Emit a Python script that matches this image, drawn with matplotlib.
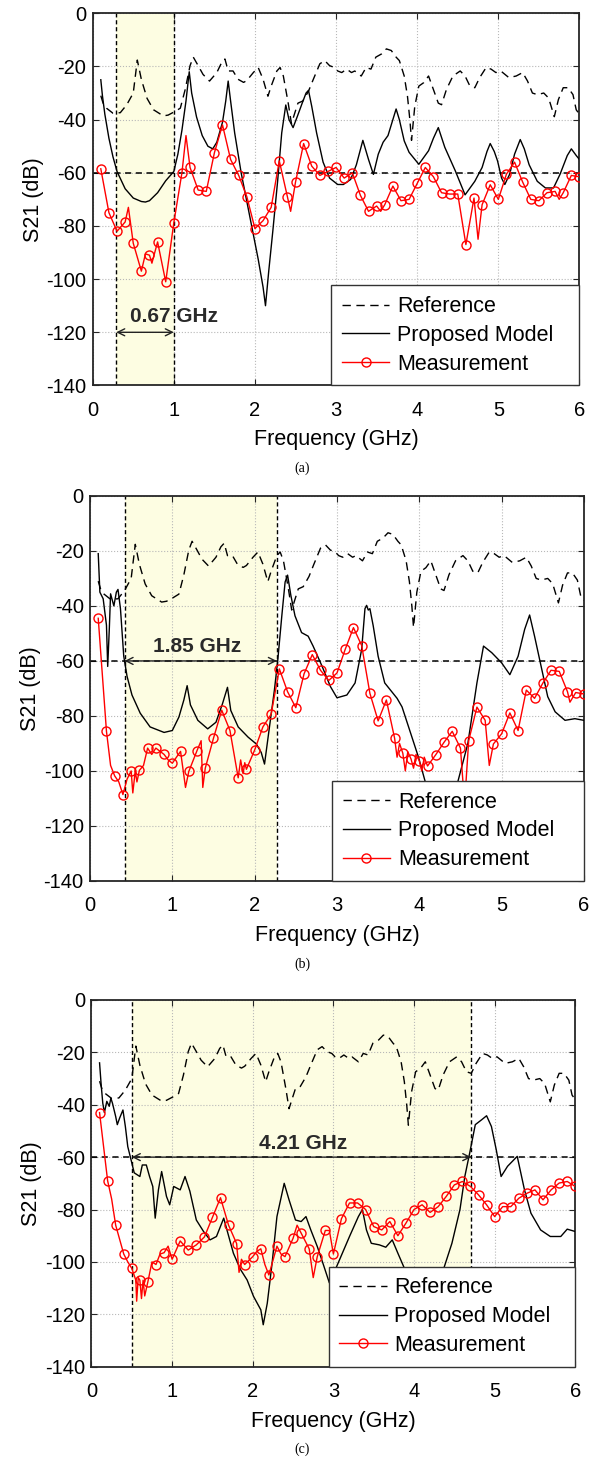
import numpy as np
import matplotlib
matplotlib.use("Agg")
import matplotlib.pyplot as plt

plt.rcParams['font.family'] = ['Liberation Sans', 'DejaVu Sans']
plt.rcParams['axes.unicode_minus'] = False

# ---------- data ----------
# Reference curve (same in all three panels)
ref_f = [0.1, 0.13, 0.17, 0.25, 0.34, 0.42, 0.5, 0.55, 0.6, 0.67, 0.75, 0.87, 0.93, 1.01, 1.08,
         1.14, 1.2, 1.24, 1.3, 1.36, 1.44, 1.53, 1.59, 1.63, 1.67, 1.73, 1.79, 1.86, 1.9, 1.98,
         2.04, 2.1, 2.16, 2.2, 2.27, 2.31, 2.35, 2.41, 2.45, 2.49, 2.53, 2.59, 2.66, 2.72, 2.8,
         2.86, 2.92, 2.98, 3.02, 3.07, 3.13, 3.19, 3.23, 3.31, 3.37, 3.43, 3.49, 3.56, 3.62, 3.68,
         3.74, 3.78, 3.84, 3.88, 3.91, 3.93, 3.97, 4.02, 4.08, 4.14, 4.2, 4.26, 4.3, 4.36, 4.44,
         4.53, 4.59, 4.65, 4.71, 4.77, 4.85, 4.91, 4.97, 5.03, 5.13, 5.22, 5.3, 5.36, 5.42, 5.48,
         5.56, 5.62, 5.69, 5.74, 5.8, 5.86, 5.92, 5.96, 6.0]
ref_db = [-31, -34, -35.7, -37.6, -37.4, -34.4, -30, -17.6, -24.9, -32, -36.3, -38.6, -38.3, -37, -35.7,
          -28.7, -19.7, -16.5, -19.7, -23, -25.5, -22.3, -18.5, -17.2, -21.7, -21.7, -24.8, -26, -25.3, -22.3,
          -20.4, -24.8, -31.2, -27.4, -21.7, -20.4, -23.6, -33.8, -41.5, -37.6, -33.8, -33, -29.3, -24.8, -19,
          -17.8, -19.7, -20.4, -21.7, -22.3, -21, -22.3, -21.7, -23.6, -20.4, -21, -16.5, -15.3, -13.4, -14,
          -16.5, -17.8, -23.6, -31.2, -40.2, -47.8, -35, -27.4, -26.1, -23.6, -28.7, -33.8, -34.4, -28.7, -23.6,
          -21.7, -23.6, -27.4, -28, -24.2, -20.4, -21, -22.3, -21.7, -24.2, -23.6, -22.3, -25.5, -30, -30.6,
          -30, -31.9, -38.9, -32.5, -28, -28, -30.6, -36.3, -38]

# (a) proposed model
model_a_f = [0.1, 0.12, 0.15, 0.2, 0.25, 0.3, 0.4, 0.5, 0.6, 0.65, 0.7, 0.8, 0.9, 1.0, 1.05, 1.1,
             1.15, 1.19, 1.22, 1.28, 1.35, 1.42, 1.48, 1.53, 1.6, 1.64, 1.67, 1.7, 1.75, 1.83, 1.94,
             2.04, 2.1, 2.13, 2.17, 2.22, 2.28, 2.33, 2.38, 2.42, 2.47, 2.52, 2.58, 2.63, 2.66, 2.7,
             2.76, 2.84, 2.92, 3.02, 3.09, 3.18, 3.25, 3.33, 3.4, 3.46, 3.52, 3.58, 3.64, 3.69, 3.74,
             3.78, 3.84, 3.9, 4.02, 4.14, 4.2, 4.26, 4.34, 4.47, 4.59, 4.71, 4.8, 4.86, 4.9, 4.95,
             4.99, 5.04, 5.08, 5.14, 5.2, 5.27, 5.32, 5.38, 5.48, 5.58, 5.68, 5.76, 5.85, 5.9, 5.96, 6.0]
model_a_db = [-25, -31, -38, -47, -54, -59.5, -66, -69.5, -70.8, -71, -70.5, -67.5, -63, -59.5, -53, -44,
              -33, -22, -30, -39, -46, -50, -51, -48.5, -41, -33, -25.5, -33, -45, -60, -77,
              -92.5, -103, -110, -97, -82, -63, -45, -34.5, -40, -43, -39, -34, -30, -29, -35,
              -45, -56, -62, -64.4, -64.4, -62.5, -57, -47.8, -55, -60.6, -53, -48.5, -46, -41, -36,
              -40, -48, -52.3, -56.8, -51.7, -47, -43, -50.4, -59.3, -68.3, -63.2, -58, -52, -49, -52,
              -55.5, -62, -64.4, -60.5, -53, -47.5, -51, -57, -63.2, -65.7, -65.7, -60.6, -53.5, -51, -53.5, -55]

# (a) measurement (markers every 0.1 GHz, extra points are spikes between them)
meas_a_f = [0.1, 0.2, 0.3, 0.4, 0.44, 0.5, 0.6, 0.65, 0.7, 0.73, 0.8, 0.9, 1.0, 1.1, 1.15, 1.2, 1.3,
            1.4, 1.5, 1.6, 1.7, 1.8, 1.9, 2.0, 2.1, 2.2, 2.3, 2.4, 2.44, 2.5, 2.6, 2.7, 2.8, 2.9, 3.0,
            3.1, 3.2, 3.3, 3.4, 3.5, 3.55, 3.6, 3.7, 3.8, 3.9, 4.0, 4.1, 4.2, 4.3, 4.4, 4.5, 4.6, 4.7,
            4.75, 4.8, 4.9, 5.0, 5.1, 5.2, 5.3, 5.4, 5.5, 5.6, 5.7, 5.75, 5.8, 5.9, 6.0]
meas_a_db = [-58.5, -75, -82, -78.5, -73, -86.5, -97, -90.5, -91, -94, -86, -101, -78.8, -60, -46, -58, -66.5,
             -67, -52.5, -42, -55, -61, -69, -81, -78, -73, -55.5, -69, -74.5, -63.5, -49, -57.5, -61, -59.5, -58,
             -62, -60, -68.5, -74.5, -72.5, -74.5, -72, -65, -70.5, -70, -64, -58, -61.5, -67.5, -68, -68, -87, -69.5,
             -85, -72, -64.5, -70, -60.5, -56, -63.5, -70, -70.5, -67.5, -67, -70, -67.5, -61, -61.5]

# (b) proposed model
model_b_f = [0.1, 0.12, 0.16, 0.2, 0.215, 0.235, 0.25, 0.29, 0.32, 0.34, 0.37, 0.41, 0.45, 0.51, 0.61,
             0.73, 0.9, 1.0, 1.08, 1.14, 1.18, 1.22, 1.31, 1.43, 1.53, 1.61, 1.67, 1.71, 1.8, 1.92, 2.02,
             2.08, 2.12, 2.18, 2.24, 2.28, 2.33, 2.37, 2.4, 2.44, 2.49, 2.57, 2.65, 2.71, 2.82, 2.92, 3.0,
             3.12, 3.22, 3.3, 3.34, 3.36, 3.38, 3.4, 3.44, 3.5, 3.58, 3.73, 3.79, 3.87, 3.99, 4.07, 4.15,
             4.25, 4.35, 4.47, 4.59, 4.7, 4.78, 4.88, 5.0, 5.1, 5.2, 5.28, 5.34, 5.4, 5.48, 5.56, 5.65,
             5.77, 5.89, 6.0]
model_b_db = [-21, -35, -37.4, -47, -62, -48, -35.6, -40, -35, -34, -41, -58.3, -65.6, -72.4, -79,
              -84, -86, -85.3, -80.4, -74.2, -69, -76, -81.6, -84.7, -82.3, -75.5, -69.6, -78, -84, -87.7, -90.2,
              -93.3, -97.5, -84, -70.6, -60, -43.6, -31.3, -28.8, -36.2, -43.6, -49.7, -51, -54.6, -62, -69.3, -73.4,
              -72.4, -68, -55.8, -41, -39.8, -41.5, -41, -47.2, -58.3, -68, -73.6, -76.7, -84, -95, -103.7, -115,
              -125, -118, -103.7, -90, -68, -54.6, -57, -60.7, -65, -58.3, -48.5, -43.3, -51, -62, -73, -78.5,
              -81.6, -81, -81.6]

# (b) measurement
meas_b_f = [0.1, 0.2, 0.25, 0.3, 0.35, 0.4, 0.45, 0.5, 0.52, 0.55, 0.57, 0.6, 0.65, 0.7, 0.75, 0.8, 0.9,
            0.95, 1.0, 1.05, 1.1, 1.16, 1.2, 1.3, 1.35, 1.37, 1.4, 1.5, 1.6, 1.7, 1.8, 1.83, 1.86, 1.88,
            1.9, 2.0, 2.1, 2.2, 2.3, 2.4, 2.5, 2.6, 2.7, 2.8, 2.9, 3.0, 3.1, 3.2, 3.3, 3.4, 3.5, 3.6, 3.7,
            3.73, 3.76, 3.8, 3.83, 3.86, 3.9, 3.93, 3.96, 4.0, 4.03, 4.06, 4.1, 4.2, 4.3, 4.4, 4.5, 4.55,
            4.6, 4.7, 4.8, 4.85, 4.9, 5.0, 5.1, 5.2, 5.3, 5.4, 5.5, 5.6, 5.7, 5.8, 5.83, 5.9, 6.0]
meas_b_db = [-44.5, -85.6, -98, -101.8, -104, -108.6, -103, -100, -108, -100, -104, -99.8, -98, -91.7, -94, -91.7, -94,
             -96, -97.2, -95, -92.9, -106, -100.2, -92.6, -89, -106, -99, -88.1, -77.9, -85.3, -102.5, -96, -101, -97,
             -99.4, -92.4, -84, -79.4, -62.9, -71.2, -77, -64.7, -57.7, -63.4, -67.1, -64.4, -55.8, -47.9, -54.4, -71.8, -81.8, -74.2, -88.1,
             -95, -90, -93.6, -100, -93, -95.7, -99, -94, -96.3, -100, -95, -98.2, -94.1, -89.6, -85.6, -91.7, -112,
             -89, -76.8, -81.6, -98, -90.2, -86.5, -78.9, -85.3, -70.6, -73.6, -68.1, -63.4, -63.8, -71.2, -75, -71.5, -72]

# (c) proposed model
model_c_f = [0.1, 0.12, 0.14, 0.16, 0.19, 0.22, 0.24, 0.26, 0.3, 0.32, 0.35, 0.39, 0.42, 0.45, 0.48,
             0.53, 0.6, 0.63, 0.68, 0.72, 0.76, 0.79, 0.83, 0.87, 0.93, 0.97, 1.02, 1.1, 1.16, 1.22, 1.3,
             1.39, 1.47, 1.55, 1.64, 1.68, 1.76, 1.85, 1.93, 2.01, 2.1, 2.13, 2.18, 2.24, 2.3, 2.39, 2.45,
             2.53, 2.6, 2.66, 2.72, 2.8, 2.87, 2.95, 3.04, 3.2, 3.31, 3.36, 3.41, 3.47, 3.57, 3.65, 3.73,
             3.8, 3.88, 4.0, 4.12, 4.25, 4.37, 4.47, 4.57, 4.63, 4.69, 4.76, 4.84, 4.9, 4.96, 5.02, 5.08,
             5.16, 5.28, 5.37, 5.45, 5.57, 5.69, 5.82, 5.9, 6.0]
model_c_db = [-24, -32.4, -39.4, -43, -38.7, -40.6, -37.5, -39.4, -44.5, -47.6, -45, -42, -48.3, -56, -59.7,
              -66, -67.4, -63, -63, -67.4, -71.2, -83.3, -72.5, -65.5, -75, -78.2, -71.2, -72.5, -67.4, -73, -84,
              -88.4, -91.6, -90.3, -83.3, -87.8, -96.7, -103, -106.9, -113.2, -118.3, -124, -115.8, -100.5, -82.7, -70, -76.3,
              -84, -84.6, -82.7, -87.8, -94.1, -100.5, -108, -101.8, -90.3, -82.7, -80, -87.8, -92.9, -93.5, -94.4, -91.6,
              -96.7, -102.4, -115, -122, -115, -102.4, -92.9, -80, -67.4, -58.5, -47.6, -45.7, -44.2, -48.3, -57.2, -67.4,
              -63.5, -59.7, -72.5, -81.4, -87.8, -90.3, -90.3, -87.5, -88.4]

# (c) measurement
meas_c_f = [0.1, 0.2, 0.25, 0.27, 0.3, 0.4, 0.45, 0.5, 0.55, 0.56, 0.58, 0.6, 0.62, 0.64, 0.66, 0.7,
            0.75, 0.8, 0.85, 0.9, 0.95, 1.0, 1.1, 1.2, 1.3, 1.4, 1.5, 1.6, 1.7, 1.8, 1.83, 1.86, 1.9,
            2.0, 2.05, 2.1, 2.15, 2.2, 2.3, 2.35, 2.4, 2.5, 2.55, 2.6, 2.65, 2.7, 2.75, 2.8, 2.9, 2.95,
            3.0, 3.1, 3.2, 3.3, 3.4, 3.5, 3.6, 3.7, 3.8, 3.9, 4.0, 4.1, 4.2, 4.3, 4.4, 4.5, 4.6, 4.7,
            4.8, 4.9, 5.0, 5.1, 5.2, 5.3, 5.4, 5.5, 5.6, 5.7, 5.8, 5.9, 6.0]
meas_c_db = [-43, -69, -76, -80, -86, -97, -100, -102.5, -107, -115, -106, -107, -114, -107, -113, -107.5,
             -100, -101, -97, -96.5, -94, -99, -92, -95.5, -93.5, -90.5, -83, -75.5, -86, -93, -104, -99, -101,
             -98, -96, -95, -101, -105, -94, -97, -98, -91, -86, -89, -92, -95, -106, -98, -88, -88,
             -97, -83.5, -77.5, -77.5, -80, -86.5, -87.8, -84.6, -90, -85.2, -80, -78.2, -81.1, -78.9, -75, -70.6, -69.3, -71.2,
             -74.4, -78.2, -82.7, -78.9, -78.9, -75.7, -73.8, -72.5, -76.3, -72.5, -69.9, -69.3, -71.2]

# shaded band edges and band widths shown in each panel
band_lo = [0.29, 0.42, 0.50]
band_hi = [1.00, 2.27, 4.71]
band_txt = ["0.67 GHz", "1.85 GHz", "4.21 GHz"]
panel_tags = ["(a)", "(b)", "(c)"]

# ---------- figure ----------
fig = plt.figure(figsize=(5.98, 14.59), dpi=100)
ax_rects = [[0.155, 0.7358, 0.814, 0.2551],
            [0.1505, 0.3962, 0.826, 0.2639],
            [0.153, 0.0633, 0.809, 0.2513]]
tag_y = [0.679, 0.339, 0.0065]

models = [(model_a_f, model_a_db), (model_b_f, model_b_db), (model_c_f, model_c_db)]
meass = [(meas_a_f, meas_a_db), (meas_b_f, meas_b_db), (meas_c_f, meas_c_db)]

for i in range(3):
    ax = fig.add_axes(ax_rects[i])
    ax.set_axisbelow(True)
    lo, hi = band_lo[i], band_hi[i]

    ax.axvspan(lo, hi, color='#fdfde2', zorder=0.2, lw=0)
    ax.grid(True, ls=':', color='#b8b8b8', lw=0.8)

    ax.plot(ref_f, ref_db, color='k', lw=1.0, dashes=(6, 4), label='Reference', zorder=3)
    mf, mdb = models[i]
    ax.plot(mf, mdb, color='k', lw=1.0, label='Proposed Model', zorder=3)
    sf, sdb = meass[i]
    sf = np.asarray(sf)
    marks = [k for k, f in enumerate(sf) if abs(f * 10 - round(f * 10)) < 1e-6]
    ax.plot(sf, sdb, color='#ff0000', lw=1.0, marker='o', ms=6.5, mfc='none', mew=1.0,
            markevery=marks, label='Measurement', zorder=4)

    # -60 dB level and band limits
    ax.axhline(-60, color='k', lw=1.1, dashes=(4, 3), zorder=2.5)
    for xv in (lo, hi):
        ax.axvline(xv, color='k', lw=1.0, dashes=(3, 2), zorder=2.5)

    if i == 0:
        ya, yt = -120, -114
    else:
        ya, yt = -60, -54.8
    ax.annotate('', xy=(hi, ya), xytext=(lo, ya),
                arrowprops=dict(arrowstyle='<->,head_length=0.5,head_width=0.25',
                                color='#222222', lw=1.0, shrinkA=0, shrinkB=0), zorder=5)
    txt_x = [0.46, 0.77, 2.08][i]
    ax.text(txt_x, yt, band_txt[i], fontsize=15, fontweight='bold', color='#2a2a2a',
            ha='left', va='center', zorder=6)

    ax.set_xlim(0, 6)
    ax.set_ylim(-140, 0)
    ax.set_xticks(range(0, 7))
    ax.set_yticks(range(-140, 1, 20))
    ax.tick_params(axis='both', direction='in', length=4, top=True, right=True,
                   labelsize=14.5, color='#262626')
    ax.tick_params(axis='x', pad=11)
    ax.tick_params(axis='y', pad=4.5)
    for sp in ax.spines.values():
        sp.set_linewidth(1.3)
        sp.set_color('#262626')

    ax.set_xlabel('Frequency (GHz)', fontsize=15.5, labelpad=7)
    ax.set_ylabel('S21 (dB)', fontsize=15.5, labelpad=2)

    leg = ax.legend(loc='lower left', bbox_to_anchor=(0.49, 0.0, 0.51, 0.27), mode='expand',
                    borderaxespad=0, fontsize=15.5, handlelength=2.2, handletextpad=0.36,
                    labelspacing=0.36, borderpad=0.5, fancybox=False, framealpha=1,
                    edgecolor='#333333')
    leg.get_frame().set_linewidth(1.0)
    leg.set_zorder(10)

    fig.text(0.505, tag_y[i], panel_tags[i], fontsize=10, ha='center', va='center',
             family=['Liberation Serif', 'DejaVu Serif'])

fig.savefig('out.png', dpi=100)
